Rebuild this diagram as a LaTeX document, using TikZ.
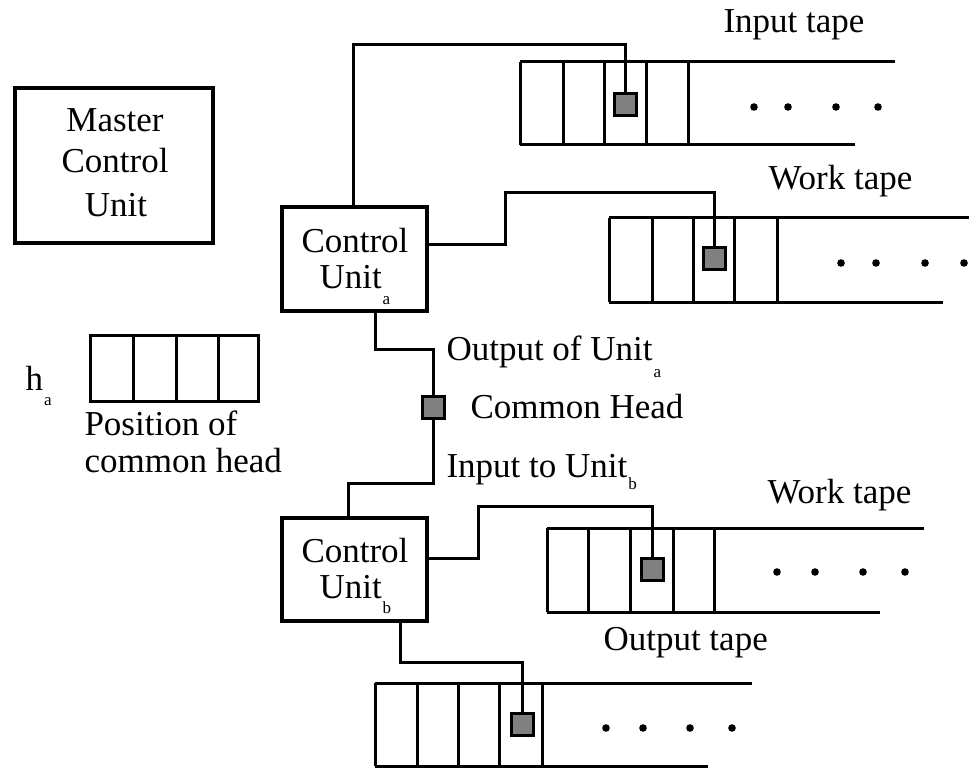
\documentclass[tikz,border=0pt]{standalone}
\usepackage{fontspec}
\setmainfont{Liberation Serif}
\definecolor{headgray}{gray}{0.5}
\newcommand\bigf{\fontsize{35}{40}\selectfont}
\newcommand\subf{\fontsize{17}{17}\selectfont}
\newcommand\lowsub[2]{\kern1pt\raisebox{-#1pt}{\subf #2}}
\begin{document}
\begin{tikzpicture}[x=1pt,y=-1pt,line width=3pt,
  box/.style={draw,line width=3.4pt,inner sep=0pt},
  lbl/.style={inner sep=0pt,anchor=base west,font=\bigf},
  clbl/.style={inner sep=0pt,anchor=base,font=\bigf},
  head/.style={draw,fill=headgray,line width=3pt,minimum width=22pt,minimum height=22pt,inner sep=0pt},
  tapeline/.style={line width=3pt}]
\useasboundingbox (0,0) rectangle (969,770);

% Master control unit
\node[box,minimum width=198pt,minimum height=155pt] (master) at (114,165.5) {};
\node[clbl] (m1) at (115,132) {Master};
\node[clbl] (m2) at (115,173) {Control};
\node[clbl] (m3) at (116,217) {Unit};

% Control units
\node[box,minimum width=145pt,minimum height=104pt] (cua) at (354.5,259) {};
\node[lbl] (cua1) at (300,252) {Control};
\node[lbl] (cua2) at (318,288) {Unit\lowsub{16}{a}};
\node[box,minimum width=145pt,minimum height=103pt] (cub) at (354.5,569.5) {};
\node[lbl] (cub1) at (300,562) {Control};
\node[lbl] (cub2) at (318,598) {Unit\lowsub{15}{b}};

% heads
\node[head] (hin) at (625,104.5) {};
\node[head] (hwa) at (714,258.5) {};
\node[head] (ch) at (433.5,407.5) {};
\node[head] (hwb) at (652,569.5) {};
\node[head] (hout) at (522,724.5) {};

% Input tape
\draw[tapeline] (520,62) -- (895,62);
\draw[tapeline] (520,145) -- (855,145);
\foreach \x in {520,563,604,646,688} \draw[tapeline] (\x,62) -- (\x,145);
\foreach \x in {754,788,836,878} \fill (\x,107) circle (3.8pt);
\node[lbl] (tin) at (722,33) {Input tape};

% Work tape a
\draw[tapeline] (609,218) -- (969,218);
\draw[tapeline] (609,302) -- (943,302);
\foreach \x in {609,652,693,734,777} \draw[tapeline] (\x,218) -- (\x,302);
\foreach \x in {841,876,925,964} \fill (\x,263) circle (3.8pt);
\node[lbl] (twa) at (767,190) {Work tape};

% Work tape b
\draw[tapeline] (547,528) -- (924,528);
\draw[tapeline] (547,612) -- (880,612);
\foreach \x in {547,588,630,673,714} \draw[tapeline] (\x,528) -- (\x,612);
\foreach \x in {777,815,863,905} \fill (\x,572) circle (3.8pt);
\node[lbl] (twb) at (766,503) {Work tape};

% Output tape
\draw[tapeline] (375,683) -- (752,683);
\draw[tapeline] (375,766) -- (708,766);
\foreach \x in {375,417,458,499,542} \draw[tapeline] (\x,683) -- (\x,766);
\foreach \x in {606,643,690,732} \fill (\x,728) circle (3.8pt);
\node[lbl] (tout) at (602,650) {Output tape};

% h_a register
\draw[tapeline] (90,335) rectangle (258,401);
\foreach \x in {133,176,218} \draw[tapeline] (\x,335) -- (\x,401);
\node[lbl] (ha) at (24,390) {h\lowsub{15}{a}};
\node[lbl] (pos1) at (83,435) {Position of};
\node[lbl] (pos2) at (83,472) {common head};

% common head labels
\node[lbl] (outa) at (445,360) {Output of Unit\lowsub{17}{a}};
\node[lbl] (chl) at (469,418) {Common Head};
\node[lbl] (inb) at (445,477) {Input to Unit\lowsub{12}{b}};

% connectors
\draw (cua.north -| 353,0) |- (hin.north |- 0,45) -- (hin.north);
\draw (cua.east |- 0,244) -- (505,244) |- (hwa.north |- 0,193) -- (hwa.north);
\draw (cua.south -| 375,0) -- (375,349) -| (ch.north);
\draw (ch.south) |- (348,483) -- (cub.north -| 348,0);
\draw (cub.east |- 0,558) -- (478,558) |- (hwb.north |- 0,506) -- (hwb.north);
\draw (cub.south -| 400,0) -- (400,662) -| (hout.north);
\end{tikzpicture}
\end{document}
